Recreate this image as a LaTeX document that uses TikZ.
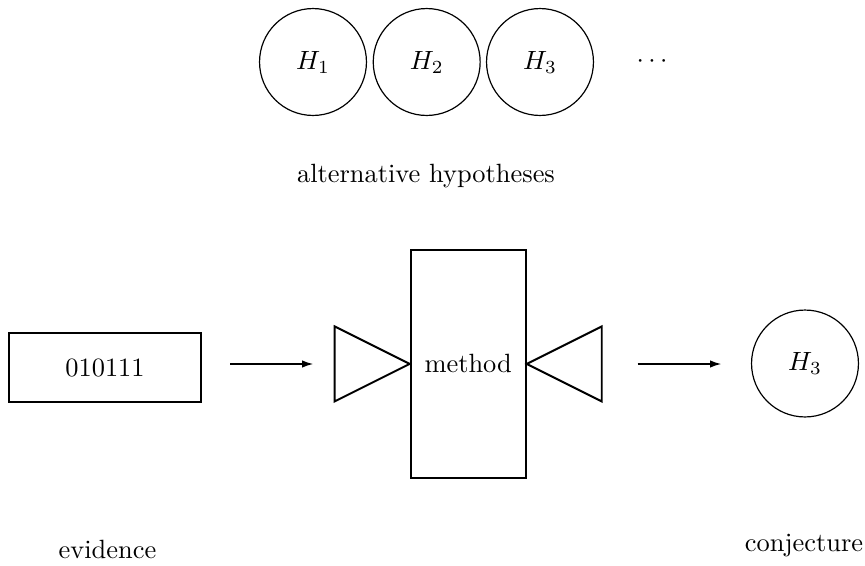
\documentclass[tikz,border=0pt]{standalone}
\usetikzlibrary{arrows.meta}
\begin{document}
\begin{tikzpicture}[x=0.3788pt,y=-0.3788pt,
  hyp/.style={circle,draw,line width=0.45pt,minimum size=40.5pt,inner sep=0pt},
  boxthick/.style={draw,line width=0.75pt,inner sep=0pt},
  tri/.style={draw,line width=0.75pt,line join=miter},
  conn/.style={line width=0.65pt,-{Latex[length=4.3pt,width=2.8pt]}},
  lbl/.style={inner sep=0pt,anchor=base}]
\useasboundingbox (0,0) rectangle (865,566);
% hypotheses
\node[hyp] (h1) at (313,62) {$H_1$};
\node[hyp] (h2) at (426.7,62) {$H_2$};
\node[hyp] (h3) at (540,62) {$H_3$};
\node[inner sep=0pt] (dots) at (652,62) {$\cdots$};
\node[lbl] (alt) at (426,182) {alternative hypotheses};
% evidence box
\node[boxthick,minimum width=72.7pt,minimum height=26.1pt] (ev) at (105,367.7) {010111};
% method box
\node[boxthick,minimum width=43.6pt,minimum height=86.4pt] (m) at (468.2,363.9) {method};
% triangles
\draw[tri] (m.west) -- ++(-75,-37.5) -- ++(0,75) -- cycle;
\draw[tri] (m.east) -- ++(75,-37.5) -- ++(0,75) -- cycle;
% conjecture circle
\node[hyp] (c) at (805,363.5) {$H_3$};
% arrows
\coordinate (a1s) at (230,364);
\coordinate (a1e) at (313.5,364);
\coordinate (a2s) at (637.5,364);
\coordinate (a2e) at (721.5,364);
\draw[conn] (a1s) -- (a1e);
\draw[conn] (a2s) -- (a2e);
% bottom labels
\node[lbl] (evl) at (107.5,558) {evidence};
\node[lbl] (cjl) at (804,551) {conjecture};
\end{tikzpicture}
\end{document}
